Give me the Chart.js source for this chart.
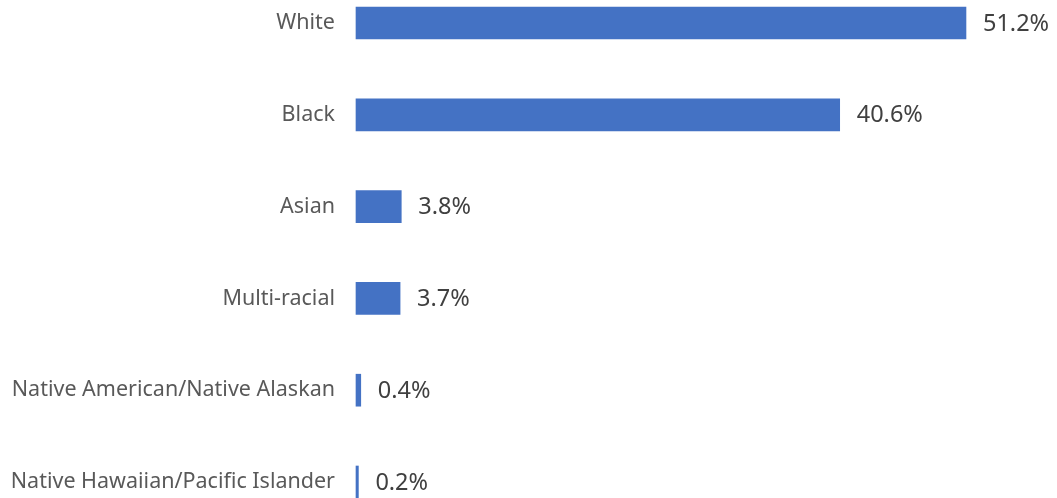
<!DOCTYPE html>
<html>
<head>
<meta charset="utf-8">
<script src="https://cdn.jsdelivr.net/npm/chart.js@4/dist/chart.umd.min.js"></script>
<style>
  html, body { margin: 0; padding: 0; background: #fff; }
  #wrap { width: 1057px; height: 498px; }
</style>
</head>
<body>
<div id="wrap"><canvas id="chart"></canvas></div>
<script>
// race / ethnicity shares, %
const categories = ['White', 'Black', 'Asian', 'Multi-racial',
  'Native American/Native Alaskan', 'Native Hawaiian/Pacific Islander'];
const shares = [51.2, 40.6, 3.8, 3.7, 0.4, 0.2];
const valueLabels = ['51.2%', '40.6%', '3.8%', '3.7%', '0.4%', '0.2%'];

const fontFamily = '"Noto Sans", "DejaVu Sans", sans-serif';

// draw the percent text to the right of each bar
const valueText = {
  id: 'valueText',
  afterDatasetsDraw(chart) {
    const c = chart.ctx;
    const meta = chart.getDatasetMeta(0);
    c.save();
    c.font = '23.5px ' + fontFamily;
    c.fillStyle = '#404040';
    c.textAlign = 'left';
    c.textBaseline = 'middle';
    meta.data.forEach((bar, i) => {
      c.fillText(valueLabels[i], bar.x + 17, bar.y + 1);
    });
    c.restore();
  }
};

const ctx = document.getElementById('chart').getContext('2d');
new Chart(ctx, {
  type: 'bar',
  data: {
    labels: categories,
    datasets: [{
      data: shares,
      backgroundColor: '#4472C4',
      borderWidth: 0,
      barThickness: 32,
      clip: false
    }]
  },
  options: {
    indexAxis: 'y',
    responsive: true,
    maintainAspectRatio: false,
    animation: false,
    layout: { padding: { top: 23, bottom: 16, left: 0, right: 0 } },
    plugins: {
      legend: { display: false },
      tooltip: { enabled: false }
    },
    scales: {
      x: {
        display: false,
        min: 0,
        max: 58.84
      },
      y: {
        offset: false,
        grid: { display: false },
        border: { display: false },
        afterFit(scale) {
          scale.width = 356;
          scale.paddingTop = 0;
          scale.paddingBottom = 0;
        },
        ticks: {
          padding: 13,
          color: '#595959',
          font: { family: fontFamily, size: 21.5 }
        }
      }
    }
  },
  plugins: [valueText]
});
</script>
</body>
</html>
